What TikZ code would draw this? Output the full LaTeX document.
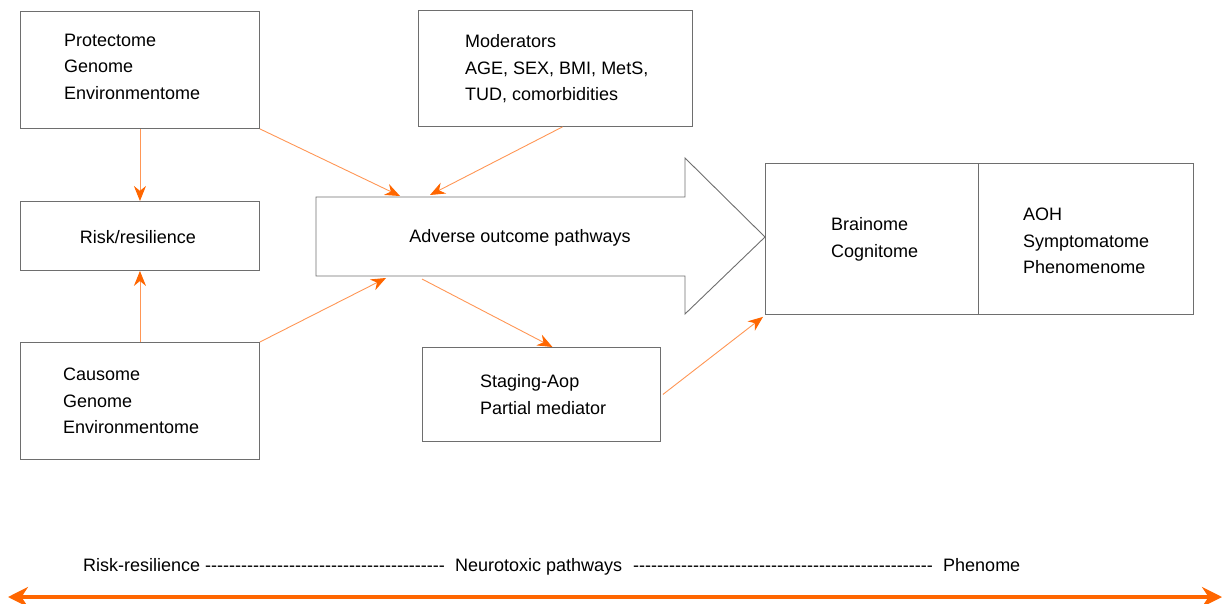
\documentclass[tikz,border=0pt]{standalone}
\usepackage{fontspec}
\setmainfont{Liberation Sans}[Ligatures=TeXOff]
\usetikzlibrary{arrows.meta}
\definecolor{boxgray}{HTML}{6E6E6E}
\definecolor{lineorange}{HTML}{FF9655}
\definecolor{headorange}{HTML}{FF6600}

\begin{document}
\begin{tikzpicture}[x=1pt,y=-1pt]
        \tikzstyle{box}=[draw=boxgray,line width=0.9pt,anchor=north west,inner sep=0pt]
        \tikzstyle{txt}=[font=\fontsize{18}{26.5}\selectfont,align=left,inner sep=0pt,anchor=west]
        \tikzstyle{link}=[draw=lineorange,line width=0.9pt,-{Stealth[length=15pt,width=12pt,color=headorange]}]
        \useasboundingbox (0,0) rectangle (1228,604);

        % boxes
        \node[box,minimum width=239pt,minimum height=117pt] (protect) at (20,11) {};
        \node[box,minimum width=274pt,minimum height=116pt] (moder) at (418,10) {};
        \node[box,minimum width=239pt,minimum height=69pt] (risk) at (20,201) {};
        \node[box,minimum width=239pt,minimum height=117pt] (cause) at (20,342) {};
        \node[box,minimum width=238pt,minimum height=94pt] (stage) at (422,347) {};
        \node[box,minimum width=213pt,minimum height=151pt] (brain) at (765,163) {};
        \node[box,minimum width=215pt,minimum height=151pt] (pheno) at (978,163) {};

        % big arrow
        \coordinate (aop-tl) at (316,197);
        \coordinate (aop-bl) at (316,276);
        \coordinate (aop-tip) at (765,237);
        \draw[boxgray,line width=0.9pt] (aop-tl) -- (685,197) -- (685,158) -- (aop-tip)
                -- (685,314) -- (685,276) -- (aop-bl) -- cycle;

        % texts
        \node[txt] (t-protect) at (64,66.5) {Protectome\\Genome\\Environmentome};
        \node[txt] (t-moder) at (465,69) {Moderators\\AGE, SEX, BMI, MetS,\\TUD, comorbidities};
        \node[txt,anchor=center] (t-risk) at (138,237) {Risk/resilience};
        \node[txt,anchor=center] (t-aop) at (520,238) {Adverse outcome pathways};
        \node[txt] (t-cause) at (63,401) {Causome\\Genome\\Environmentome};
        \node[txt] (t-stage) at (480,394.5) {Staging-Aop\\Partial mediator};
        \node[txt] (t-brain) at (831,239.5) {Brainome\\Cognitome};
        \node[txt] (t-pheno) at (1023,241) {AOH\\Symptomatome\\Phenomenome};

        % connectors
        \coordinate (aop-in1) at (400,196);
        \coordinate (aop-in2) at (430,195);
        \coordinate (aop-in3) at (386,278);
        \coordinate (aop-out) at (422,279);
        \draw[link] (protect.south) -- (risk.north);
        \draw[link] (cause.north) -- (risk.south);
        \draw[link] (protect.south east) -- (aop-in1);
        \draw[link] ([xshift=7pt]moder.south) -- (aop-in2);
        \draw[link] (cause.north east) -- (aop-in3);
        \draw[link] (aop-out) -- ([xshift=11pt]stage.north);
        \draw[link] ([xshift=2pt]stage.east) -- ([xshift=-2pt,yshift=-2pt]brain.south west);

        % scale
        \node[txt,anchor=base west] (s-risk) at (83,571) {Risk-resilience};
        \node[txt,anchor=base west] (s-dash1) at (205,571) {----------------------------------------};
        \node[txt,anchor=base west] (s-neuro) at (455,571) {Neurotoxic pathways};
        \node[txt,anchor=base west] (s-dash2) at (633,571) {--------------------------------------------------};
        \node[txt,anchor=base west] (s-pheno) at (943,571) {Phenome};
        \coordinate (s-left) at (8,597);
        \coordinate (s-right) at (1222,597);
        \draw[headorange,line width=4pt,{Stealth[length=20pt,width=20pt]}-{Stealth[length=20pt,width=20pt]}] (s-left) -- (s-right);
\end{tikzpicture}
\end{document}
